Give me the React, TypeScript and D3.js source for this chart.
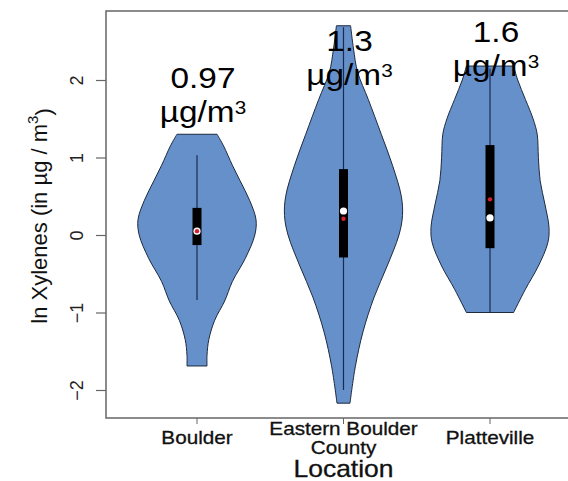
import React, { useRef, useEffect } from "react";
import * as d3 from "d3";

const locations = ["Boulder", "Eastern Boulder County", "Platteville"];
const locationLines = [["Boulder"], ["Eastern Boulder", "County"], ["Platteville"]];
const geoMeans = ["0.97", "1.3", "1.6"];
const yTicks = [-2, -1, 0, 1, 2];

// violin outlines: level (ln ug/m3) and relative half-width (max = 1)
const boulderLevels = [1.3, 1.15, 0.9, 0.7, 0.45, 0.2, 0.0, -0.3, -0.6, -0.85, -1.1, -1.35, -1.55, -1.69];
const boulderWidths = [0.34, 0.45, 0.6, 0.73, 0.89, 1.0, 0.98, 0.82, 0.6, 0.47, 0.3, 0.2, 0.17, 0.17];
const eastLevels = [2.7, 2.4, 2.1, 1.75, 1.3, 0.9, 0.5, 0.25, 0.0, -0.4, -0.8, -1.25, -1.7, -2.17];
const eastWidths = [0.12, 0.17, 0.24, 0.42, 0.64, 0.83, 0.98, 1.0, 0.94, 0.74, 0.52, 0.33, 0.2, 0.11];
const plattLevels = [2.18, 2.0, 1.75, 1.5, 1.3, 1.0, 0.7, 0.4, 0.1, -0.1, -0.4, -0.7, -1.0];
const plattWidths = [0.4, 0.47, 0.6, 0.73, 0.8, 0.82, 0.85, 0.93, 1.0, 0.98, 0.82, 0.6, 0.4];

const whiskerLow = [-0.84, -2.0, -1.0];
const whiskerHigh = [1.03, 2.68, 2.15];
const q1 = [-0.13, -0.29, -0.17];
const q3 = [0.35, 0.85, 1.16];
const medians = [0.05, 0.31, 0.22];
const means = [0.05, 0.21, 0.46];

const profiles = [
  { levels: boulderLevels, widths: boulderWidths },
  { levels: eastLevels, widths: eastWidths },
  { levels: plattLevels, widths: plattWidths },
];

// layout
const W = 568, H = 481;
const plot = { left: 106, top: 11, bottom: 418, right: 572 };
const labelBaseline = [88, 51, 42];
const stretch = 1.15;
const font = "'Liberation Sans', Arial, Helvetica, sans-serif";

const App = () => {
  const svgRef = useRef(null);

  useEffect(() => {
    const svg = d3.select(svgRef.current)
      .attr("width", W)
      .attr("height", H)
      .style("background", "#fff");
    svg.selectAll("*").remove();

    const x = d3.scalePoint().domain(locations).range([197, 490]);
    const y = d3.scaleLinear().domain([-2, 2]).range([390, 80]);
    const wScale = d3.scaleLinear().domain([0, 1]).range([0, 59]);

    // violins
    locations.forEach((loc, i) => {
      const cx = x(loc);
      const pts = profiles[i].levels.map((l, k) => [l, profiles[i].widths[k]]);
      const area = d3.area()
        .y(d => y(d[0]))
        .x0(d => cx - wScale(d[1]))
        .x1(d => cx + wScale(d[1]))
        .curve(d3.curveCatmullRom.alpha(0.5));

      svg.append("path")
        .attr("d", area(pts))
        .attr("fill", "#6690CA")
        .attr("stroke", "#1d2a3f")
        .attr("stroke-width", 1);

      svg.append("line")
        .attr("x1", cx).attr("x2", cx)
        .attr("y1", y(whiskerLow[i])).attr("y2", y(whiskerHigh[i]))
        .attr("stroke", "#1b2b50")
        .attr("stroke-width", 1.2);

      svg.append("rect")
        .attr("x", cx - 4.5)
        .attr("width", 9)
        .attr("y", y(q3[i]))
        .attr("height", y(q1[i]) - y(q3[i]))
        .attr("fill", "#000");

      svg.append("circle")
        .attr("cx", cx).attr("cy", y(medians[i]))
        .attr("r", 3.6)
        .attr("fill", "#fff");

      svg.append("circle")
        .attr("cx", cx).attr("cy", y(means[i]))
        .attr("r", 2.2)
        .attr("fill", "#d2222c");
    });

    // plot frame
    svg.append("rect")
      .attr("x", plot.left).attr("y", plot.top)
      .attr("width", plot.right - plot.left)
      .attr("height", plot.bottom - plot.top)
      .attr("fill", "none")
      .attr("stroke", "#666")
      .attr("stroke-width", 1.5);

    // y axis
    const yAxis = svg.append("g")
      .attr("transform", `translate(${plot.left},0)`)
      .call(d3.axisLeft(y).tickValues(yTicks).tickSize(10).tickFormat(d3.format("d")));
    yAxis.select(".domain").remove();
    yAxis.selectAll(".tick line").attr("stroke", "#666").attr("stroke-width", 1.2);
    yAxis.selectAll(".tick text")
      .attr("transform", "rotate(-90)")
      .attr("x", 0)
      .attr("y", -23)
      .attr("dy", 0)
      .style("text-anchor", "middle")
      .style("font-family", font)
      .style("font-size", "18px")
      .style("fill", "#222");

    // y label
    const yl = svg.append("text")
      .attr("transform", "translate(47,216) rotate(-90)")
      .style("text-anchor", "middle")
      .style("font-family", font)
      .style("font-size", "22px")
      .style("fill", "#111");
    yl.append("tspan").text("ln Xylenes (in µg / m");
    yl.append("tspan").attr("dy", "-0.6em").style("font-size", "15px").text("3");
    yl.append("tspan").attr("dy", "0.6em").text(")");

    // x ticks and labels
    locations.forEach((loc, i) => {
      const cx = x(loc);
      svg.append("line")
        .attr("x1", cx).attr("x2", cx)
        .attr("y1", plot.bottom).attr("y2", plot.bottom + 6)
        .attr("stroke", "#666");

      const lines = locationLines[i];
      lines.forEach((t, k) => {
        const by = 444 - (lines.length - 1) * 19 / 2 + k * 19;
        svg.append("g")
          .attr("transform", `translate(${cx},${by}) scale(${stretch},1)`)
          .append("text")
          .style("text-anchor", "middle")
          .style("font-family", font)
          .style("font-size", "18px")
          .style("fill", "#111")
          .style("stroke", "#111")
          .style("stroke-width", 0.3)
          .text(t);
      });

      // geometric mean annotation
      const g = svg.append("g")
        .attr("transform", `translate(${cx + 6},0)`);
      g.append("g")
        .attr("transform", `translate(0,${labelBaseline[i]}) scale(${stretch},1)`)
        .append("text")
        .style("text-anchor", "middle")
        .style("font-family", font)
        .style("font-size", "29px")
        .style("fill", "#000")
        .text(geoMeans[i]);
      const unit = g.append("g")
        .attr("transform", `translate(0,${labelBaseline[i] + 34}) scale(${stretch},1)`)
        .append("text")
        .style("text-anchor", "middle")
        .style("font-family", font)
        .style("font-size", "29px")
        .style("fill", "#000");
      unit.append("tspan").text("µg/m");
      unit.append("tspan").attr("dy", "-0.42em").style("font-size", "18px").text("3");
    });

    // x title
    svg.append("g")
      .attr("transform", `translate(${x(locations[1])},477) scale(${stretch},1)`)
      .append("text")
      .style("text-anchor", "middle")
      .style("font-family", font)
      .style("font-size", "23px")
      .style("fill", "#111")
      .style("stroke", "#111")
      .style("stroke-width", 0.3)
      .text("Location");
  }, []);

  return (
    <div style={{ position: "absolute", left: 0, top: 0 }}>
      <svg ref={svgRef}></svg>
    </div>
  );
};

export default App;
